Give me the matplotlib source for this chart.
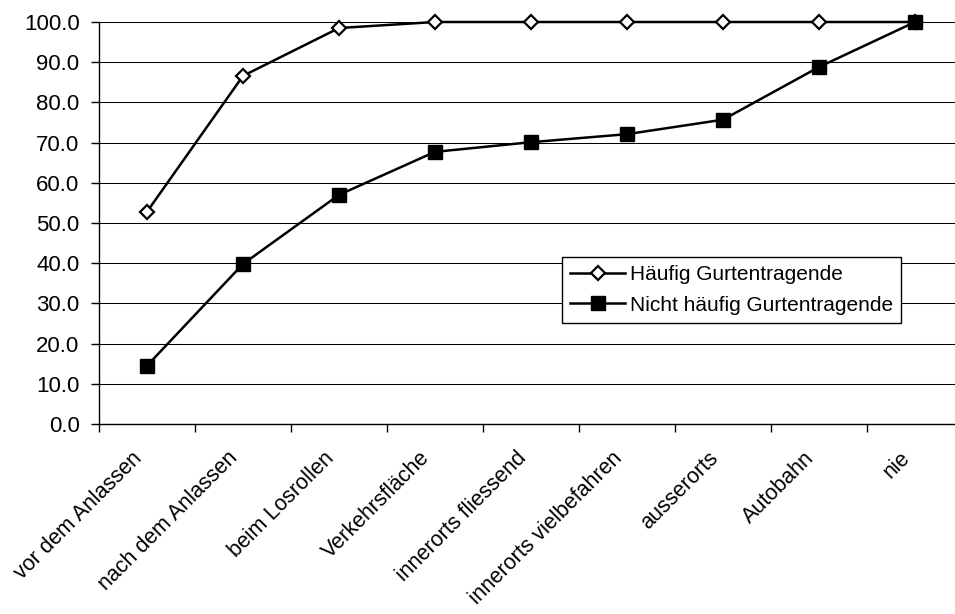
import matplotlib
matplotlib.use('Agg')
import matplotlib.pyplot as plt
import matplotlib.transforms as mtransforms
from matplotlib.ticker import FixedLocator

plt.rcParams['font.family'] = ['Liberation Sans', 'DejaVu Sans']

categories = ['vor dem Anlassen', 'nach dem Anlassen', 'beim Losrollen', 'Verkehrsfläche',
              'innerorts fliessend', 'innerorts vielbefahren', 'ausserorts', 'Autobahn', 'nie']
haeufig = [52.8, 86.6, 98.5, 100.0, 100.0, 100.0, 100.0, 100.0, 100.0]
nicht_haeufig = [14.5, 39.8, 57.0, 67.7, 70.1, 72.1, 75.7, 88.8, 100.0]
yticks = [0, 10, 20, 30, 40, 50, 60, 70, 80, 90, 100]

fig = plt.figure(figsize=(9.55, 6.14), dpi=100)
# axes reach past the right edge, like the cropped original
ax = fig.add_axes([99 / 955, 1 - 424 / 614, 864 / 955, 402 / 614])

x = list(range(len(categories)))
ax.plot(x, haeufig, color='black', lw=1.8, marker='D', markersize=7,
        markerfacecolor='white', markeredgecolor='black', markeredgewidth=1.6,
        label='Häufig Gurtentragende', zorder=3, clip_on=False)
ax.plot(x, nicht_haeufig, color='black', lw=1.8, marker='s', markersize=10.5,
        markerfacecolor='black', markeredgecolor='black',
        label='Nicht häufig Gurtentragende', zorder=4, clip_on=False)

ax.set_xlim(-0.5, len(categories) - 0.5)
ax.set_ylim(0, 100)
ax.set_yticks(yticks)
ax.set_yticklabels(['%.1f' % v for v in yticks])
ax.yaxis.grid(True, color='black', lw=0.75)
ax.set_axisbelow(True)

# category labels, rotated, hanging below each category centre
ax.set_xticks(x)
ax.set_xticklabels([])
shift = mtransforms.ScaledTranslation(-8 / 100, -31 / 100, fig.dpi_scale_trans)
for i, name in enumerate(categories):
    ax.text(i, 0, name, transform=ax.get_xaxis_transform() + shift,
            rotation=45, ha='right', va='center', rotation_mode='anchor',
            fontsize=15.5)

ax.xaxis.set_minor_locator(FixedLocator([i - 0.5 for i in range(len(categories) + 1)]))
ax.tick_params(axis='x', which='major', length=0)
ax.tick_params(axis='x', which='minor', length=6, width=1, direction='out')
ax.tick_params(axis='y', length=6, width=1, direction='out', pad=8, labelsize=16)

for s in ['top', 'right']:
    ax.spines[s].set_visible(False)
for s in ['left', 'bottom']:
    ax.spines[s].set_linewidth(1)

leg = ax.legend(loc='lower left', bbox_to_anchor=(0.536, 0.251), borderaxespad=0,
                fontsize=15, fancybox=False, shadow=False, framealpha=1,
                edgecolor='black', handlelength=2.6, handletextpad=0.25,
                borderpad=0.4, labelspacing=0.55)
leg.get_frame().set_linewidth(1)

fig.savefig('out.png', dpi=100)
